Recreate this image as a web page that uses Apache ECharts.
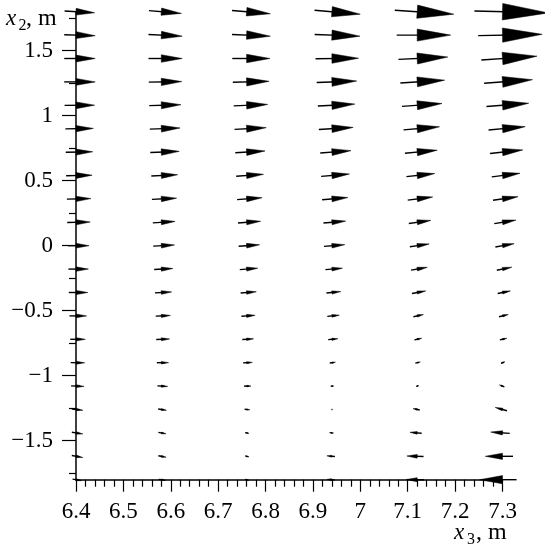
<!DOCTYPE html>
<html><head><meta charset="utf-8">
<script src="https://cdn.jsdelivr.net/npm/echarts@6/dist/echarts.min.js"></script>
<style>html,body{margin:0;padding:0;background:#fff}#c{width:545px;height:547px}</style>
</head><body><div id="c"></div>
<script>
const X3 = [6.4, 6.58, 6.76, 6.94, 7.12, 7.3];
const X2 = [1.8, 1.62, 1.44, 1.26, 1.08, 0.9, 0.72, 0.54, 0.36, 0.18, 0, -0.18, -0.36, -0.54, -0.72, -0.9, -1.08, -1.26, -1.44, -1.62, -1.8];

const U_c1 = [6.33, 6.54, 6.54, 6.54, 6.33, 5.91, 5.70, 5.49, 5.06, 4.85, 4.43, 4.22, 4.01, 3.59, 3.16, 2.95, 2.74, 2.32, 2.32, 2.32, 1.90];
const U_c2 = [6.84, 7.11, 7.11, 6.96, 6.69, 6.39, 6.12, 5.55, 5.21, 4.70, 4.49, 3.95, 3.52, 3.10, 2.81, 2.47, 2.17, 1.75, 1.62, 1.62, 1.48];
const U_c3 = [8.08, 8.08, 7.95, 7.66, 7.17, 6.69, 6.27, 5.76, 5.27, 4.79, 4.43, 3.80, 3.31, 2.89, 2.38, 1.96, 1.48, 1.12, 0.84, 0.84, 0.84];
const U_c4 = [9.64, 9.56, 9.07, 8.44, 7.81, 7.24, 6.48, 5.97, 5.42, 4.70, 4.37, 3.59, 3.02, 2.53, 2.05, 1.20, 0.63, 0.21, -0.84, -1.69, -1.69];
const U_c5 = [12.45, 11.39, 10.40, 9.35, 8.44, 7.59, 6.81, 5.97, 5.27, 4.64, 4.07, 3.44, 2.89, 2.11, 1.54, 1.05, 0.57, -1.41, -2.47, -3.52, -3.80];
const U_c6 = [15.61, 13.50, 11.75, 10.19, 8.92, 7.74, 6.90, 5.97, 5.27, 4.58, 3.95, 3.16, 2.68, 1.96, 1.48, 0.84, -1.05, -2.47, -4.01, -5.84, -7.81];

const V_c1 = [-0.36, -0.21, 0, 0, 0.05, 0.1, 0.1, 0.1, 0.1, 0.1, 0, 0, 0, 0, 0, -0.05, -0.1, -0.25, -0.35, -0.42, -0.3];
const V_c2 = [-0.57, -0.36, 0, 0.1, 0.2, 0.25, 0.25, 0.25, 0.25, 0.3, 0.25, 0.2, 0.2, 0.15, 0.1, 0, -0.1, -0.25, -0.3, -0.3, -0.2];
const V_c3 = [-0.70, -0.36, 0, 0.2, 0.3, 0.35, 0.4, 0.4, 0.4, 0.35, 0.3, 0.3, 0.25, 0.2, 0.15, 0.1, 0, -0.1, -0.15, -0.2, -0.2];
const V_c4 = [-0.84, -0.36, 0.1, 0.3, 0.4, 0.45, 0.5, 0.5, 0.45, 0.4, 0.35, 0.3, 0.3, 0.25, 0.2, 0.15, 0.05, 0, 0.1, 0.15, 0.1];
const V_c5 = [-0.84, 0, 0.5, 0.6, 0.6, 0.65, 0.65, 0.65, 0.65, 0.65, 0.6, 0.6, 0.55, 0.45, 0.35, 0.25, 0.15, 0.3, 0.2, 0.1, 0.05];
const V_c6 = [-0.42, 0.27, 0.8, 0.75, 0.7, 0.7, 0.75, 0.75, 0.75, 0.75, 0.7, 0.65, 0.55, 0.45, 0.35, 0.3, 0.4, 0.7, 0.28, 0, 0];

const yMajorTicks = [-1.5, -1, -0.5, 0, 0.5, 1, 1.5];
const yMinorTicks = [-1.75, -1.25, -0.75, -0.25, 0.25, 0.75, 1.25, 1.75];

const U_cols = [U_c1, U_c2, U_c3, U_c4, U_c5, U_c6];
const V_cols = [V_c1, V_c2, V_c3, V_c4, V_c5, V_c6];

const data = [];
X3.forEach((x, i) => X2.forEach((y, j) => data.push([x, y, U_cols[i][j], V_cols[i][j]])));

const SX = 0.01;
const SY = 0.01 * (474 / 130);

const FONT = '"Liberation Serif", "Times New Roman", serif';

function renderItem(params, api) {
  const x = api.value(0), y = api.value(1), u = api.value(2), v = api.value(3);
  const dx = u * SX, dy = v * SY;
  const P = api.coord([x, y]);
  const T = api.coord([x - 0.38 * dx, y - 0.38 * dy]);
  const H = api.coord([x + 0.62 * dx, y + 0.62 * dy]);
  const hx = H[0] - P[0], hy = H[1] - P[1];
  const hl = Math.hypot(hx, hy);
  if (hl < 0.05) return null;
  const nx = -hy / hl, ny = hx / hl;
  const w = 0.18 * hl;
  return {
    type: 'group',
    children: [
      { type: 'line', shape: { x1: T[0], y1: T[1], x2: P[0] + hx * 0.5, y2: P[1] + hy * 0.5 },
        style: { stroke: '#000', lineWidth: 1.4 } },
      { type: 'polygon', shape: { points: [[P[0] + nx * w, P[1] + ny * w], [H[0], H[1]], [P[0] - nx * w, P[1] - ny * w]] },
        style: { fill: '#000', stroke: '#000', lineWidth: 0.5 } }
    ]
  };
}

const chart = echarts.init(document.getElementById('c'), null, { renderer: 'canvas' });
chart.setOption({
  animation: false,
  backgroundColor: '#fff',
  grid: { left: 76, right: 42.5, top: 11.7, bottom: 67.3, containLabel: false, outerBoundsMode: 'none' },
  xAxis: {
    type: 'value', min: 6.4, max: 7.3, interval: 0.1,
    axisLine: { onZero: false, lineStyle: { color: '#000', width: 1.5 } },
    axisTick: { show: true, length: 12, lineStyle: { color: '#000', width: 1.2 } },
    minorTick: { show: true, splitNumber: 5, length: 7, lineStyle: { color: '#000', width: 1.2 } },
    splitLine: { show: false },
    axisLabel: { color: '#000', fontFamily: FONT, fontSize: 23, margin: 21, showMinLabel: true, showMaxLabel: true }
  },
  yAxis: [
    {
      type: 'value', min: -1.8, max: 1.8, position: 'left',
      axisLine: { onZero: false, lineStyle: { color: '#000', width: 1.5 } },
      axisTick: { show: true, length: 14, customValues: yMajorTicks, lineStyle: { color: '#000', width: 1.2 } },
      splitLine: { show: false },
      axisLabel: { color: '#000', fontFamily: FONT, fontSize: 23, margin: 23, customValues: yMajorTicks,
        formatter: v => String(v).replace('-', '\u2212') }
    },
    {
      type: 'value', min: -1.8, max: 1.8, position: 'left', offset: 0,
      axisLine: { show: false, onZero: false },
      axisTick: { show: true, length: 7, customValues: yMinorTicks, lineStyle: { color: '#000', width: 1.2 } },
      splitLine: { show: false },
      axisLabel: { show: false }
    }
  ],
  graphic: [
    { type: 'text', x: 6, y: 18.5, style: { text: 'x', font: 'italic 23px ' + FONT, fill: '#000', verticalAlign: 'middle', align: 'left' } },
    { type: 'text', x: 18.5, y: 25.5, style: { text: '2', font: '16px ' + FONT, fill: '#000', verticalAlign: 'middle', align: 'left' } },
    { type: 'text', x: 26, y: 18.5, style: { text: ', m', font: '24px ' + FONT, fill: '#000', verticalAlign: 'middle', align: 'left' } },
    { type: 'text', x: 454, y: 532.5, style: { text: 'x', font: 'italic 23px ' + FONT, fill: '#000', verticalAlign: 'middle', align: 'left' } },
    { type: 'text', x: 467, y: 540, style: { text: '3', font: '16px ' + FONT, fill: '#000', verticalAlign: 'middle', align: 'left' } },
    { type: 'text', x: 476, y: 532.5, style: { text: ', m', font: '24px ' + FONT, fill: '#000', verticalAlign: 'middle', align: 'left' } }
  ],
  series: [{
    type: 'custom', renderItem: renderItem, clip: false, silent: true,
    encode: { x: 0, y: 1 },
    data: data, z: 5
  }]
});
</script>
</body></html>
